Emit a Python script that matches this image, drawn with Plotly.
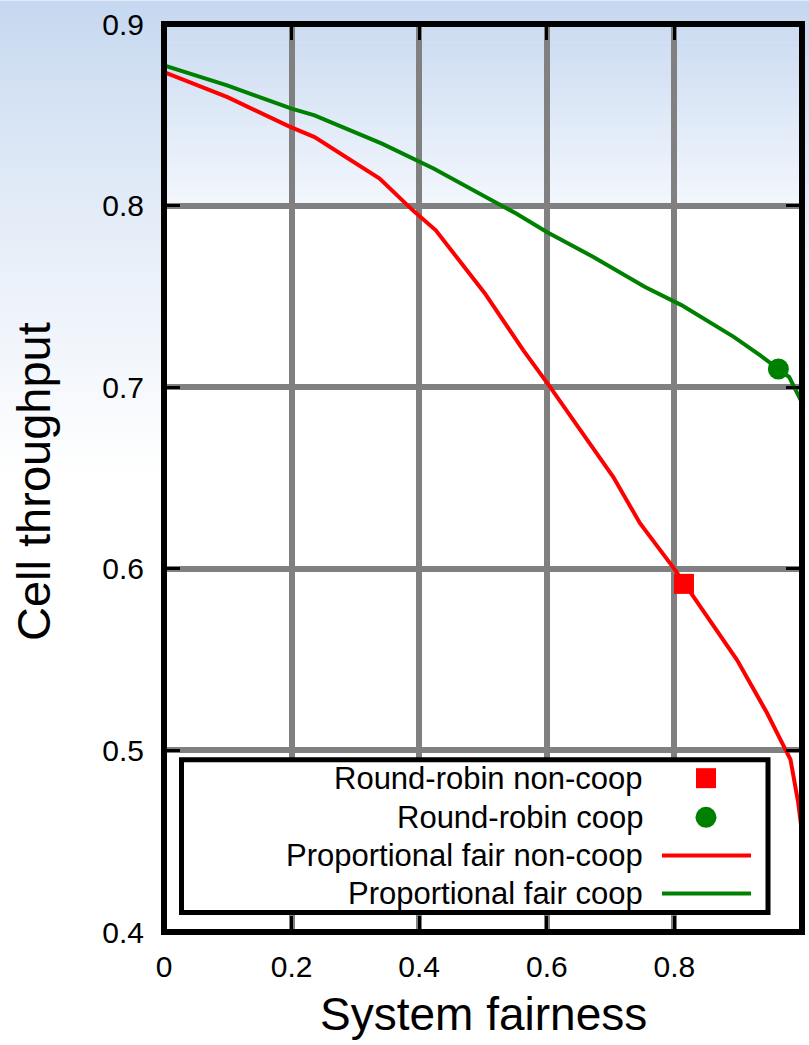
import plotly.graph_objects as go

# ---------------- data ----------------
pf_noncoop_fairness = [0.0, 0.0995, 0.196, 0.236, 0.338, 0.390, 0.426, 0.503, 0.563, 0.605,
                       0.704, 0.746, 0.801, 0.898, 0.945, 0.9715, 0.982, 0.994, 1.0]
pf_noncoop_throughput = [0.8735, 0.8597, 0.8436, 0.8377, 0.8149, 0.7974, 0.7864, 0.7516, 0.7204, 0.7002,
                         0.6507, 0.6251, 0.5994, 0.5499, 0.5207, 0.5022, 0.4949, 0.4713, 0.455]

pf_coop_fairness = [0.0, 0.0989, 0.200, 0.236, 0.3416, 0.4225, 0.552, 0.600, 0.673, 0.754,
                    0.811, 0.893, 0.934, 0.962, 0.980, 0.998, 1.0]
pf_coop_throughput = [0.8772, 0.8662, 0.8534, 0.8497, 0.8341, 0.8204, 0.7956, 0.7855, 0.7717, 0.7552,
                      0.7452, 0.7277, 0.7177, 0.7100, 0.7056, 0.6929, 0.690]

rr_noncoop_fairness = [0.815]
rr_noncoop_throughput = [0.5917]
rr_coop_fairness = [0.963]
rr_coop_throughput = [0.710]

legend_labels = ["Round-robin non-coop", "Round-robin coop",
                 "Proportional fair non-coop", "Proportional fair coop"]

x_ticks = [0, 0.2, 0.4, 0.6, 0.8, 1]
y_ticks = [0.4, 0.5, 0.6, 0.7, 0.8, 0.9]

RED = "#ff0000"
GREEN = "#008000"
FONT = "Liberation Sans, Arial, sans-serif"

# ---------------- figure ----------------
fig = go.Figure()
fig.add_trace(go.Scatter(x=pf_noncoop_fairness, y=pf_noncoop_throughput, mode="lines",
                         line=dict(color=RED, width=4), name=legend_labels[2]))
fig.add_trace(go.Scatter(x=pf_coop_fairness, y=pf_coop_throughput, mode="lines",
                         line=dict(color=GREEN, width=4), name=legend_labels[3]))
fig.add_trace(go.Scatter(x=rr_noncoop_fairness, y=rr_noncoop_throughput, mode="markers",
                         marker=dict(symbol="square", color=RED, size=20, line=dict(width=0)),
                         name=legend_labels[0]))
fig.add_trace(go.Scatter(x=rr_coop_fairness, y=rr_coop_throughput, mode="markers",
                         marker=dict(symbol="circle", color=GREEN, size=21, line=dict(width=0)),
                         name=legend_labels[1]))

W, H = 809, 1045
L, R, T, B = 164, 7, 23.5, 112.5
pw, ph = W - L - R, H - T - B


def px_x(p):
    return (p - L) / pw


def px_y(p):
    return (H - B - p) / ph


def mix(c0, c1, f):
    return "rgb(%d,%d,%d)" % tuple(round(c0[k] + (c1[k] - c0[k]) * f) for k in range(3))


shapes = []
# page background gradient (light blue at top fading to white)
n = 60
y_end = 480
for i in range(n):
    y0 = i * y_end / n
    y1 = (i + 1) * y_end / n + 0.6
    f = ((i + 0.5) / n) ** 0.8
    shapes.append(dict(type="rect", xref="paper", yref="paper", layer="below",
                       x0=px_x(0), x1=px_x(W), y0=px_y(y1), y1=px_y(y0),
                       line=dict(width=0), fillcolor=mix((196, 215, 239), (255, 255, 255), f)))
# plot area: white, with its own gradient in the top band
shapes.append(dict(type="rect", xref="paper", yref="paper", layer="below",
                   x0=0, x1=1, y0=0, y1=1, line=dict(width=0), fillcolor="white"))
n2 = 40
for i in range(n2):
    y0 = T + i * (205 - T) / n2
    y1 = T + (i + 1) * (205 - T) / n2 + 0.6
    f = (i + 0.5) / n2
    shapes.append(dict(type="rect", xref="paper", yref="paper", layer="below",
                       x0=0, x1=1, y0=px_y(y1), y1=px_y(y0),
                       line=dict(width=0), fillcolor=mix((203, 219, 241), (243, 247, 253), f)))

# plot frame
shapes.append(dict(type="rect", xref="paper", yref="paper", x0=0, x1=1, y0=0, y1=1,
                   line=dict(color="black", width=6), layer="above"))

# legend box
shapes.append(dict(type="rect", xref="paper", yref="paper",
                   x0=px_x(181.5), x1=px_x(768), y0=px_y(913), y1=px_y(760),
                   line=dict(color="black", width=5), fillcolor="white", layer="above"))
# legend samples
shapes.append(dict(type="rect", xref="paper", yref="paper",
                   x0=px_x(696), x1=px_x(716), y0=px_y(788.5), y1=px_y(768.5),
                   line=dict(width=0), fillcolor=RED, layer="above"))
shapes.append(dict(type="circle", xref="paper", yref="paper",
                   x0=px_x(695.5), x1=px_x(716.5), y0=px_y(828.2), y1=px_y(807.2),
                   line=dict(width=0), fillcolor=GREEN, layer="above"))
shapes.append(dict(type="line", xref="paper", yref="paper",
                   x0=px_x(662), x1=px_x(751), y0=px_y(856), y1=px_y(856),
                   line=dict(color=RED, width=4), layer="above"))
shapes.append(dict(type="line", xref="paper", yref="paper",
                   x0=px_x(662), x1=px_x(751), y0=px_y(894), y1=px_y(894),
                   line=dict(color=GREEN, width=4), layer="above"))

annotations = []
for lbl, yy in zip(legend_labels, [779, 818, 856, 894]):
    annotations.append(dict(text=lbl, xref="paper", yref="paper", x=px_x(645), y=px_y(yy),
                            xanchor="right", yanchor="middle", showarrow=False,
                            font=dict(family=FONT, size=31, color="black")))

annotations.append(dict(text="System fairness", xref="paper", yref="paper",
                        x=0.5, y=px_y(1015), xanchor="center", yanchor="middle",
                        showarrow=False, font=dict(family=FONT, size=46, color="black")))
annotations.append(dict(text="Cell throughput", xref="paper", yref="paper",
                        x=px_x(34), y=px_y(482), xanchor="center", yanchor="middle",
                        textangle=-90, showarrow=False,
                        font=dict(family=FONT, size=47, color="black")))

fig.update_layout(
    width=W, height=H, autosize=False,
    margin=dict(l=L, r=R, t=T, b=B, pad=0),
    paper_bgcolor="white", plot_bgcolor="rgba(0,0,0,0)",
    showlegend=False,
    shapes=shapes, annotations=annotations,
    font=dict(family=FONT, color="black"),
)
fig.update_xaxes(range=[0, 1], tickvals=x_ticks, ticktext=[("%g" % v) for v in x_ticks],
                 showgrid=True, gridcolor="#808080", gridwidth=6, zeroline=False,
                 showline=False, ticks="inside", ticklen=16, tickwidth=3, tickcolor="black",
                 mirror="ticks", tickfont=dict(family=FONT, size=30, color="black"),
                 ticklabelstandoff=14)
fig.update_yaxes(range=[0.4, 0.9], tickvals=y_ticks, ticktext=[("%g" % v) for v in y_ticks],
                 showgrid=True, gridcolor="#808080", gridwidth=6, zeroline=False,
                 showline=False, ticks="inside", ticklen=16, tickwidth=3, tickcolor="black",
                 mirror="ticks", tickfont=dict(family=FONT, size=30, color="black"),
                 ticklabelstandoff=19)

fig.write_html("out.html", config={"displayModeBar": False},
               post_script="document.body.style.margin='0px';document.body.style.padding='0px';")
